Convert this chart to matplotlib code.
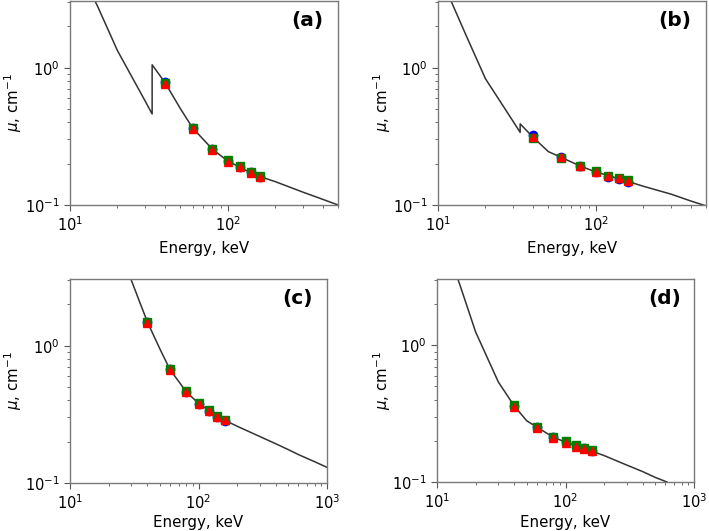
import numpy as np
import matplotlib
matplotlib.use("Agg")
import matplotlib.pyplot as plt
from matplotlib.ticker import LogLocator, NullFormatter

# ---- data ----
# theoretical attenuation curves (energy keV, mu cm^-1)
E_a = [10, 14.4, 15, 20, 30, 33.17, 33.17, 40, 50, 60, 80, 100, 150, 200, 300, 400, 500]
mu_a = [7.7, 3.06, 2.78, 1.33, 0.57, 0.46, 1.05, 0.78, 0.505, 0.363, 0.255, 0.209, 0.165, 0.148, 0.124, 0.110, 0.100]

E_b = [10, 12.1, 15, 20, 30, 33.17, 33.17, 40, 50, 60, 80, 100, 150, 200, 300, 400, 500]
mu_b = [5.04, 3.06, 1.74, 0.83, 0.405, 0.338, 0.39, 0.312, 0.245, 0.223, 0.192, 0.174, 0.152, 0.137, 0.120, 0.107, 0.0985]

E_c = [20, 30, 35, 40, 50, 60, 80, 100, 120, 150, 200, 300, 400, 500, 600, 800, 1000]
mu_c = [8.6, 3.0, 2.06, 1.49, 0.95, 0.67, 0.464, 0.38, 0.338, 0.295, 0.259, 0.218, 0.193, 0.175, 0.161, 0.143, 0.130]

E_d = [10, 14.6, 15, 20, 30, 40, 50, 60, 80, 100, 150, 200, 300, 400, 500, 600, 616]
mu_d = [8.1, 3.02, 2.81, 1.25, 0.54, 0.359, 0.28, 0.252, 0.213, 0.196, 0.172, 0.156, 0.133, 0.119, 0.108, 0.101, 0.100]

# measured points (three series)
E_pts = [40, 60, 80, 100, 120, 140, 160]

blue_a = [0.79, 0.366, 0.256, 0.209, 0.189, 0.173, 0.161]
green_a = [0.77, 0.364, 0.257, 0.211, 0.191, 0.175, 0.163]
red_a = [0.76, 0.358, 0.252, 0.206, 0.188, 0.172, 0.160]

blue_b = [0.322, 0.225, 0.191, 0.173, 0.161, 0.155, 0.148]
green_b = [0.308, 0.221, 0.193, 0.176, 0.164, 0.158, 0.151]
red_b = [0.313, 0.222, 0.192, 0.174, 0.162, 0.156, 0.149]

blue_c = [1.50, 0.675, 0.462, 0.378, 0.336, 0.303, 0.284]
green_c = [1.48, 0.672, 0.466, 0.381, 0.341, 0.308, 0.289]
red_c = [1.47, 0.665, 0.460, 0.377, 0.337, 0.305, 0.286]

blue_d = [0.357, 0.252, 0.214, 0.196, 0.183, 0.176, 0.169]
green_d = [0.365, 0.254, 0.215, 0.198, 0.185, 0.178, 0.171]
red_d = [0.355, 0.249, 0.211, 0.194, 0.181, 0.175, 0.168]

labels = ["(a)", "(b)", "(c)", "(d)"]
xlims = [(10, 500), (10, 500), (10, 1000), (10, 1000)]

# ---- figure ----
W, H = 709, 531
fig = plt.figure(figsize=(W / 100, H / 100), dpi=100)

def rect(l, t, r, b):
    return [l / W, 1 - b / H, (r - l) / W, (b - t) / H]

boxes = [(70, 1, 338, 205), (438, 1, 706, 205),
         (70, 279, 327, 483), (437, 279, 694, 482)]
ylab_x = [13, 382, 13, 382]      # pixel centre of y label
xlab_dy = [43, 43, 39, 40]       # pixel offset of x label below axes

curves = [(E_a, mu_a), (E_b, mu_b), (E_c, mu_c), (E_d, mu_d)]
pts = [(blue_a, green_a, red_a), (blue_b, green_b, red_b),
       (blue_c, green_c, red_c), (blue_d, green_d, red_d)]

for i in range(4):
    l, t, r, b_ = boxes[i]
    ax = fig.add_axes(rect(l, t, r, b_))
    E, mu = curves[i]
    ax.plot(E, mu, color="#333333", lw=1.1, zorder=2)
    b, g, rr = pts[i]
    ax.plot(E_pts, b, "o", color="blue", ms=6, ls="none", zorder=3)
    ax.plot(E_pts, g, "s", color="green", ms=5.5, ls="none", zorder=4)
    ax.plot(E_pts, rr, "^", color="red", ms=6, ls="none", zorder=5)
    ax.set_xscale("log")
    ax.set_yscale("log")
    ax.set_xlim(*xlims[i])
    ax.set_ylim(0.1, 3.06)
    ax.yaxis.set_major_locator(LogLocator(base=10, numticks=10))
    ax.yaxis.set_minor_locator(LogLocator(base=10, subs=np.arange(2, 10), numticks=10))
    ax.yaxis.set_minor_formatter(NullFormatter())
    ax.xaxis.set_minor_formatter(NullFormatter())
    for sp in ax.spines.values():
        sp.set_color("#7a7a7a")
        sp.set_linewidth(1.0)
    ax.tick_params(which="both", colors="#555555", labelcolor="black", labelsize=10.5)
    ax.tick_params(which="major", length=4)
    ax.tick_params(which="minor", length=2.2)
    ax.set_xlabel("Energy, keV", fontsize=10.8)
    ax.set_ylabel(r"$\mu$, cm$^{-1}$", fontsize=10.8)
    ax.xaxis.set_label_coords(0.5, -xlab_dy[i] / (b_ - t))
    ax.yaxis.set_label_coords((ylab_x[i] - l) / (r - l), 0.5)
    ax.xaxis.label.set_va("center")
    ax.yaxis.label.set_va("center")
    ax.text(0.885, 0.905, labels[i], transform=ax.transAxes, fontsize=14.5,
            fontweight="bold", ha="center", va="center")

fig.savefig("out.png", dpi=100)
